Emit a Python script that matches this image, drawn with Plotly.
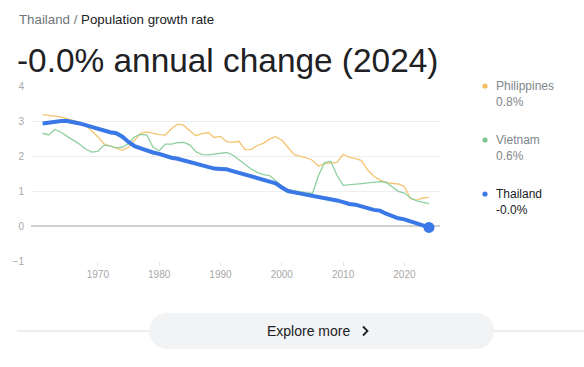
import plotly.graph_objects as go

years = list(range(1961, 2025))

thailand = [2.93, 2.96, 2.98, 3.00, 3.00, 2.97, 2.93, 2.88, 2.83, 2.79,
            2.72, 2.68, 2.65, 2.55, 2.40, 2.28, 2.22, 2.15, 2.10, 2.06,
            2.00, 1.95, 1.92, 1.87, 1.82, 1.77, 1.72, 1.68, 1.64, 1.63,
            1.62, 1.57, 1.52, 1.47, 1.42, 1.38, 1.33, 1.29, 1.22, 1.10,
            1.00, 0.96, 0.93, 0.90, 0.87, 0.84, 0.80, 0.77, 0.73, 0.68,
            0.63, 0.61, 0.57, 0.51, 0.46, 0.44, 0.35, 0.27, 0.22, 0.19,
            0.13, 0.05, -0.01, -0.04]

philippines = [3.18, 3.17, 3.14, 3.11, 3.07, 3.02, 2.97, 2.88, 2.72, 2.55,
               2.35, 2.28, 2.22, 2.16, 2.25, 2.45, 2.65, 2.69, 2.65, 2.61,
               2.60, 2.78, 2.91, 2.88, 2.72, 2.58, 2.64, 2.67, 2.53, 2.56,
               2.41, 2.39, 2.42, 2.18, 2.19, 2.30, 2.36, 2.48, 2.55, 2.45,
               2.25, 2.04, 1.99, 1.95, 1.88, 1.71, 1.78, 1.79, 1.82, 2.05,
               1.96, 1.93, 1.87, 1.60, 1.42, 1.32, 1.24, 1.22, 1.20, 1.13,
               0.78, 0.74, 0.80, 0.82]

vietnam = [2.65, 2.60, 2.76, 2.68, 2.56, 2.45, 2.34, 2.20, 2.11, 2.13,
           2.31, 2.28, 2.23, 2.25, 2.35, 2.55, 2.62, 2.60, 2.25, 2.15,
           2.34, 2.34, 2.38, 2.39, 2.32, 2.12, 2.04, 2.03, 2.06, 2.09,
           2.10, 2.03, 1.90, 1.77, 1.63, 1.53, 1.47, 1.44, 1.30, 1.15,
           1.04, 1.00, 0.98, 0.95, 0.93, 1.45, 1.82, 1.84, 1.45, 1.16,
           1.17, 1.19, 1.21, 1.23, 1.26, 1.27, 1.25, 1.12, 0.99, 0.94,
           0.80, 0.72, 0.67, 0.64]

series_names = ["Philippines", "Vietnam", "Thailand"]
series_values = [philippines, vietnam, thailand]
series_labels = ["0.8%", "0.6%", "-0.0%"]
x_tick_labels = ["1970", "1980", "1990", "2000", "2010", "2020"]
y_tick_values = [-1, 0, 1, 2, 3, 4]

header_country = "Thailand"
header_metric = "Population growth rate"
title_text = "-0.0% annual change (2024)"
button_text = "Explore more"

W, H = 584, 367
L, R, T, B = 31, 144, 86, 106
PW, PH = W - L - R, H - T - B


def px(x):
    return (x - L) / PW


def py(y):
    return (H - B - y) / PH


FONT = "Arial, 'Liberation Sans', sans-serif"
colors = ["#f5c46f", "#8fcf9f", "#3b78e7"]
dot_colors = ["#f4bf63", "#7cc691", "#3b78e7"]
widths = [1.3, 1.3, 4]

fig = go.Figure()
for name, vals, col, w in zip(series_names, series_values, colors, widths):
    fig.add_trace(go.Scatter(x=years, y=vals, mode="lines", name=name,
                             line=dict(color=col, width=w), hoverinfo="skip"))

fig.add_trace(go.Scatter(x=[years[-1]], y=[thailand[-1]], mode="markers",
                         marker=dict(color="#3b78e7", size=11), hoverinfo="skip"))

annotations = []
annotations.append(dict(
    x=px(17), y=py(19), xref="paper", yref="paper", xanchor="left", yanchor="middle",
    showarrow=False,
    text=f'<span style="color:#70757a">{header_country}</span>'
         f'<span style="color:#70757a"> / </span>'
         f'<span style="color:#202124">{header_metric}</span>',
    font=dict(family=FONT, size=13.3, color="#202124")))
annotations.append(dict(
    x=px(15), y=py(60), xref="paper", yref="paper", xanchor="left", yanchor="middle",
    showarrow=False, text=title_text,
    font=dict(family=FONT, size=33.4, color="#202124")))

legend_y = [86, 140, 194]
for i, (name, lab) in enumerate(zip(series_names, series_labels)):
    tc = "#202124" if name == "Thailand" else "#80868b"
    annotations.append(dict(
        x=px(494), y=py(legend_y[i]), xref="paper", yref="paper",
        xanchor="left", yanchor="middle", showarrow=False, text=name,
        font=dict(family=FONT, size=12, color=tc)))
    annotations.append(dict(
        x=px(494), y=py(legend_y[i] + 16), xref="paper", yref="paper",
        xanchor="left", yanchor="middle", showarrow=False, text=lab,
        font=dict(family=FONT, size=12, color=tc)))

annotations.append(dict(
    x=px(308), y=py(331), xref="paper", yref="paper", xanchor="center", yanchor="middle",
    showarrow=False, text=button_text,
    font=dict(family=FONT, size=14, color="#202124")))

shapes = []
for i in range(3):
    cx, cy, r = 485, legend_y[i], 2.6
    shapes.append(dict(type="circle", xref="paper", yref="paper",
                       x0=px(cx - r), x1=px(cx + r), y0=py(cy + r), y1=py(cy - r),
                       fillcolor=dot_colors[i], line=dict(width=0)))

# separator line
shapes.append(dict(type="line", xref="paper", yref="paper",
                   x0=px(17), x1=px(584), y0=py(331), y1=py(331),
                   line=dict(color="#dadce0", width=1), layer="above"))

# pill button
bx0, bx1, by0, by1 = 149, 494, 313, 349
rr = (by1 - by0) / 2
k = 0.5523 * rr
pts = [
    ("M", (bx0 + rr, by0)),
    ("L", (bx1 - rr, by0)),
    ("C", (bx1 - rr + k, by0), (bx1, by0 + rr - k), (bx1, by0 + rr)),
    ("C", (bx1, by0 + rr + k), (bx1 - rr + k, by1), (bx1 - rr, by1)),
    ("L", (bx0 + rr, by1)),
    ("C", (bx0 + rr - k, by1), (bx0, by1 - rr + k), (bx0, by1 - rr)),
    ("C", (bx0, by1 - rr - k), (bx0 + rr - k, by0), (bx0 + rr, by0)),
]
path = ""
for cmd, *ps in pts:
    path += cmd + " " + " ".join(f"{px(a):.5f},{py(b):.5f}" for a, b in ps) + " "
path += "Z"
shapes.append(dict(type="path", xref="paper", yref="paper", path=path,
                   fillcolor="#f1f3f4", line=dict(width=0), layer="above"))
# chevron
shapes.append(dict(type="path", xref="paper", yref="paper",
                   path=f"M {px(363):.5f},{py(326.5):.5f} L {px(367.5):.5f},{py(331):.5f} L {px(363):.5f},{py(335.5):.5f}",
                   line=dict(color="#202124", width=1.8), layer="above"))

fig.update_layout(
    width=W, height=H,
    margin=dict(l=L, r=R, t=T, b=B, pad=0),
    paper_bgcolor="white", plot_bgcolor="white",
    showlegend=False,
    annotations=annotations,
    shapes=shapes,
    xaxis=dict(range=[1959.1, 2025.8], tickvals=[int(t) for t in x_tick_labels],
               ticktext=x_tick_labels, showgrid=False, zeroline=False, showline=False,
               ticks="outside", ticklen=4, tickcolor="#e6e6e6", tickwidth=1,
               tickfont=dict(family=FONT, size=10, color="#a8a8a8"), fixedrange=True),
    yaxis=dict(range=[-1, 4], tickvals=y_tick_values, showgrid=True, gridcolor="#eeeeee",
               gridwidth=1, zeroline=True, zerolinecolor="#cfcfcf", zerolinewidth=1.5,
               showline=False, ticks="", ticklabelstandoff=6,
               tickfont=dict(family=FONT, size=10, color="#a8a8a8"), fixedrange=True),
)

fig.write_html("out.html", config={"displayModeBar": False},
               post_script="document.body.style.margin='0';")
